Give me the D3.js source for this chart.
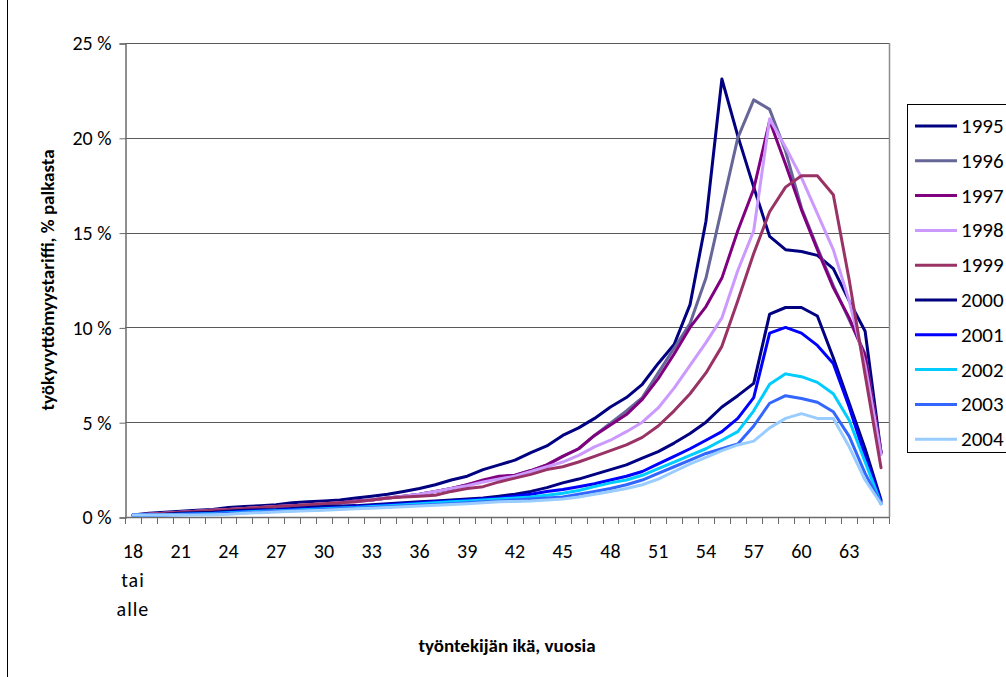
<!DOCTYPE html>
<html><head><meta charset="utf-8">
<script src="https://cdn.jsdelivr.net/npm/d3@7"></script>
<style>
html,body{margin:0;padding:0;background:#fff;}
svg{display:block;}
text{font-family:Carlito,Lato,"Open Sans",sans-serif;fill:#000;}
</style></head>
<body><svg id="c" width="1006" height="677"></svg>
<script>
const ages = d3.range(18, 66).map(a => String(a));
const tickLabels = ["18","21","24","27","30","33","36","39","42","45","48","51","54","57","60","63"];
const firstLabelExtra = ["tai", "alle"];
const yTicks = [0, 5, 10, 15, 20, 25];
const seriesNames = ["1995","1996","1997","1998","1999","2000","2001","2002","2003","2004"];
const seriesColors = ["#000080","#666699","#800080","#CC99FF","#993366","#000080","#0000FF","#00CCFF","#3366FF","#99CCFF"];

const v1995 = [0.1,0.2,0.25,0.3,0.35,0.4,0.5,0.55,0.6,0.65,0.75,0.8,0.85,0.9,1.0,1.1,1.2,1.35,1.5,1.7,1.95,2.15,2.5,2.75,3.0,3.4,3.75,4.3,4.7,5.2,5.8,6.3,7.0,8.1,9.1,11.2,15.6,23.1,20.1,17.4,14.8,14.1,14.0,13.8,13.1,11.4,9.8,3.4];
const v1996 = [0.1,0.15,0.2,0.25,0.3,0.35,0.4,0.45,0.5,0.55,0.6,0.65,0.7,0.75,0.85,0.9,1.0,1.1,1.2,1.35,1.5,1.7,1.9,2.1,2.2,2.45,2.75,3.2,3.6,4.3,4.95,5.6,6.3,7.6,8.9,10.2,12.6,16.3,20.0,22.0,21.5,19.3,16.3,14.2,12.2,10.4,8.6,3.4];
const v1997 = [0.1,0.15,0.2,0.25,0.3,0.35,0.4,0.45,0.5,0.55,0.6,0.65,0.7,0.75,0.85,0.9,1.0,1.1,1.2,1.35,1.5,1.7,1.95,2.15,2.2,2.45,2.75,3.2,3.6,4.3,4.85,5.4,6.2,7.3,8.6,10.0,11.1,12.6,15.1,17.3,20.9,18.6,16.2,14.1,12.1,10.5,8.5,3.4];
const v1998 = [0.1,0.15,0.2,0.25,0.3,0.35,0.4,0.45,0.5,0.55,0.6,0.65,0.7,0.75,0.8,0.9,1.0,1.1,1.2,1.35,1.5,1.65,1.85,2.0,2.15,2.4,2.65,2.9,3.25,3.7,4.05,4.5,5.0,5.75,6.8,8.0,9.2,10.5,13.0,15.1,21.0,19.5,17.9,16.0,14.1,11.4,8.0,3.3];
const v1999 = [0.1,0.15,0.2,0.25,0.3,0.35,0.4,0.45,0.5,0.55,0.6,0.65,0.7,0.75,0.8,0.9,1.0,1.05,1.1,1.15,1.35,1.5,1.6,1.85,2.05,2.25,2.5,2.65,2.9,3.2,3.5,3.8,4.2,4.8,5.6,6.5,7.6,9.0,11.4,13.9,16.1,17.4,18.0,18.0,17.0,12.5,7.5,2.6];
const v2000 = [0.1,0.12,0.15,0.2,0.22,0.25,0.3,0.35,0.38,0.4,0.45,0.5,0.55,0.58,0.6,0.65,0.7,0.75,0.8,0.85,0.9,0.95,1.0,1.1,1.2,1.35,1.55,1.8,2.0,2.25,2.5,2.75,3.1,3.45,3.9,4.4,5.0,5.8,6.4,7.05,10.7,11.05,11.05,10.6,8.4,6.0,3.6,0.9];
const v2001 = [0.1,0.1,0.12,0.15,0.18,0.2,0.25,0.3,0.33,0.36,0.4,0.43,0.47,0.5,0.55,0.6,0.65,0.7,0.75,0.8,0.85,0.9,0.95,1.0,1.1,1.2,1.35,1.45,1.6,1.75,1.95,2.15,2.4,2.8,3.2,3.6,4.05,4.5,5.2,6.3,9.7,10.0,9.7,9.05,8.1,5.8,3.2,0.8];
const v2002 = [0.1,0.1,0.12,0.14,0.16,0.18,0.22,0.26,0.3,0.33,0.36,0.4,0.43,0.47,0.5,0.55,0.6,0.65,0.7,0.75,0.8,0.85,0.9,0.95,1.0,1.05,1.15,1.25,1.4,1.6,1.8,1.95,2.2,2.55,2.9,3.25,3.6,4.05,4.5,5.6,7.0,7.55,7.4,7.1,6.5,5.1,2.9,0.7];
const v2003 = [0.1,0.1,0.1,0.12,0.14,0.16,0.2,0.23,0.26,0.3,0.33,0.36,0.4,0.43,0.46,0.5,0.54,0.58,0.62,0.66,0.7,0.75,0.8,0.85,0.9,0.95,1.0,1.05,1.2,1.35,1.5,1.7,1.95,2.3,2.65,3.0,3.35,3.6,3.85,4.8,6.0,6.4,6.25,6.05,5.55,4.25,2.3,0.7];
const v2004 = [0.1,0.1,0.1,0.1,0.1,0.12,0.15,0.2,0.23,0.26,0.3,0.33,0.36,0.4,0.43,0.46,0.5,0.54,0.58,0.62,0.66,0.7,0.75,0.8,0.82,0.85,0.9,0.95,1.05,1.2,1.35,1.5,1.7,2.0,2.4,2.8,3.15,3.5,3.8,4.0,4.7,5.2,5.45,5.2,5.2,3.7,1.95,0.7];
const seriesValues = [v1995,v1996,v1997,v1998,v1999,v2000,v2001,v2002,v2003,v2004];

const svg = d3.select("#c");
const M = {left:125, right:889, top:43, bottom:517};

const x = d3.scaleBand().domain(ages).range([M.left, M.right]).paddingInner(0).paddingOuter(0);
const y = d3.scaleLinear().domain([0, 25]).range([M.bottom, M.top]);
const cx = a => x(a) + x.bandwidth() / 2;

// chart area left border
svg.append("line").attr("x1",7.5).attr("x2",7.5).attr("y1",0).attr("y2",677).attr("stroke","#000").attr("stroke-width",1);

// gridlines
svg.append("g").selectAll("line").data(yTicks.filter(t => t > 0)).join("line")
  .attr("x1", M.left).attr("x2", M.right)
  .attr("y1", d => Math.round(y(d)) + 0.5).attr("y2", d => Math.round(y(d)) + 0.5)
  .attr("stroke", "#5a5a5a").attr("stroke-width", 1);
// plot right border
svg.append("line").attr("x1", M.right + 0.5).attr("x2", M.right + 0.5)
  .attr("y1", M.top).attr("y2", M.bottom).attr("stroke", "#8c8c8c").attr("stroke-width", 1.5);

// y axis
const yAxis = d3.axisLeft(y).tickValues(yTicks).tickSize(6).tickPadding(8).tickFormat(d => d + " %");
const gy = svg.append("g").attr("transform", `translate(${M.left + 0.5},0.5)`).call(yAxis);
gy.select(".domain").attr("stroke", "#6b6b6b").attr("stroke-width", 1.5);
gy.selectAll(".tick line").attr("stroke", "#6b6b6b");
gy.selectAll(".tick text").attr("font-size", 20).attr("font-family", "Carlito,Lato,sans-serif").attr("fill", "#000");

// x axis
const gx = svg.append("g");
gx.append("line").attr("x1", M.left).attr("x2", M.right)
  .attr("y1", M.bottom + 0.5).attr("y2", M.bottom + 0.5).attr("stroke", "#6b6b6b").attr("stroke-width", 1.5);
gx.selectAll("line.t").data(ages.concat(["end"])).join("line").attr("class", "t")
  .attr("x1", d => (d === "end" ? M.right : Math.round(x(d))) + 0.5)
  .attr("x2", d => (d === "end" ? M.right : Math.round(x(d))) + 0.5)
  .attr("y1", M.bottom).attr("y2", M.bottom + 7).attr("stroke", "#6b6b6b").attr("stroke-width", 1);
gx.selectAll("text.l").data(tickLabels).join("text").attr("class", "l")
  .attr("x", d => cx(d)).attr("y", 558).attr("text-anchor", "middle").attr("font-size", 20)
  .text(d => d);
gx.selectAll("text.e").data(firstLabelExtra).join("text").attr("class", "e")
  .attr("x", cx("18")).attr("y", (d, i) => 587 + i * 28.5).attr("text-anchor", "middle")
  .attr("font-size", 20).attr("letter-spacing", 1).text(d => d);

// titles
svg.append("text").attr("x", 507).attr("y", 652).attr("text-anchor", "middle")
  .attr("font-size", 19).attr("font-weight", "bold").text("työntekijän ikä, vuosia");
svg.append("text").attr("transform", "translate(54,280) rotate(-90)").attr("text-anchor", "middle")
  .attr("font-size", 19).attr("font-weight", "bold").text("työkyvyttömyystariffi, % palkasta");

// lines
const line = d3.line().x((d, i) => cx(ages[i])).y(d => y(d));
svg.append("g").selectAll("path").data(seriesValues).join("path")
  .attr("d", d => line(d)).attr("fill", "none")
  .attr("stroke", (d, i) => seriesColors[i]).attr("stroke-width", 3)
  .attr("stroke-linejoin", "round").attr("stroke-linecap", "round");

// legend
const lg = svg.append("g");
lg.append("rect").attr("x", 907.5).attr("y", 104.5).attr("width", 120).attr("height", 348)
  .attr("fill", "#fff").attr("stroke", "#000").attr("stroke-width", 1);
const items = lg.selectAll("g.i").data(seriesNames).join("g").attr("class", "i")
  .attr("transform", (d, i) => `translate(0,${126 + i * 34.8})`);
items.append("line").attr("x1", 915).attr("x2", 957).attr("y1", 0).attr("y2", 0)
  .attr("stroke", (d, i) => seriesColors[i]).attr("stroke-width", 3);
items.append("text").attr("x", 961).attr("y", 7).attr("font-size", 21).text(d => d);
</script></body></html>
